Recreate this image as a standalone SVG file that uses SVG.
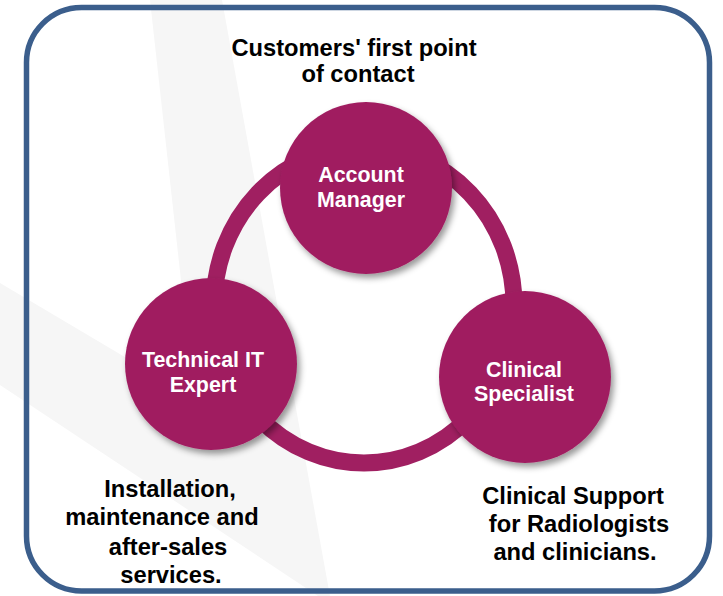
<svg xmlns="http://www.w3.org/2000/svg" width="723" height="596" viewBox="0 0 723 596">
  <style>
    .node-circle { fill: #A01F61; filter: url(#shadow); }
    .node-label { font-family: "Liberation Sans", Arial, sans-serif; font-weight: bold; font-size: 21.4px; fill: #ffffff; text-anchor: middle; }
    .caption { font-family: "Liberation Sans", Arial, sans-serif; font-weight: bold; font-size: 23.7px; fill: #000000; text-anchor: middle; }
    .ring { fill: none; stroke: #A01F61; stroke-width: 17; }
  </style>
  <defs>
    <filter id="shadow" x="-20%" y="-20%" width="150%" height="150%">
      <feDropShadow dx="3" dy="4" stdDeviation="3" flood-color="#000000" flood-opacity="0.4"/>
    </filter>
  </defs>

  <rect x="0" y="0" width="723" height="596" fill="#ffffff"/>

  <!-- watermark -->
  <g id="watermark">
    <polygon points="150,0 222,0 330,596 318,596 0,385 0,283 194,398" fill="#f6f6f6"/>
  </g>

  <!-- frame -->
  <rect id="frame" x="26.5" y="7.5" width="683" height="583.5" rx="55" ry="55" fill="none" stroke="#3B5E8C" stroke-width="5.5"/>

  <!-- connectors -->
  <g id="connectors">
    <ellipse class="ring" cx="364" cy="305" rx="150" ry="158"/>
  </g>

  <g id="account-manager">
    <circle class="node-circle" cx="366" cy="188" r="86"/>
    <text class="node-label" x="361" y="182">Account</text>
    <text class="node-label" x="361" y="207">Manager</text>
  </g>

  <g id="technical-it-expert">
    <circle class="node-circle" cx="211" cy="364" r="86"/>
    <text class="node-label" x="203" y="367">Technical IT</text>
    <text class="node-label" x="203" y="392">Expert</text>
  </g>

  <g id="clinical-specialist">
    <circle class="node-circle" cx="525" cy="377" r="86"/>
    <text class="node-label" x="524" y="377">Clinical</text>
    <text class="node-label" x="524" y="401">Specialist</text>
  </g>

  <g id="caption-account">
    <text class="caption" x="354" y="56">Customers' first point</text>
    <text class="caption" x="358" y="82">of contact</text>
  </g>

  <g id="caption-technical">
    <text class="caption" x="170" y="497">Installation,</text>
    <text class="caption" x="162" y="525">maintenance and</text>
    <text class="caption" x="168" y="555">after-sales</text>
    <text class="caption" x="171" y="583">services.</text>
  </g>

  <g id="caption-clinical">
    <text class="caption" x="573" y="504">Clinical Support</text>
    <text class="caption" x="579" y="532">for Radiologists</text>
    <text class="caption" x="575" y="560">and clinicians.</text>
  </g>
</svg>
